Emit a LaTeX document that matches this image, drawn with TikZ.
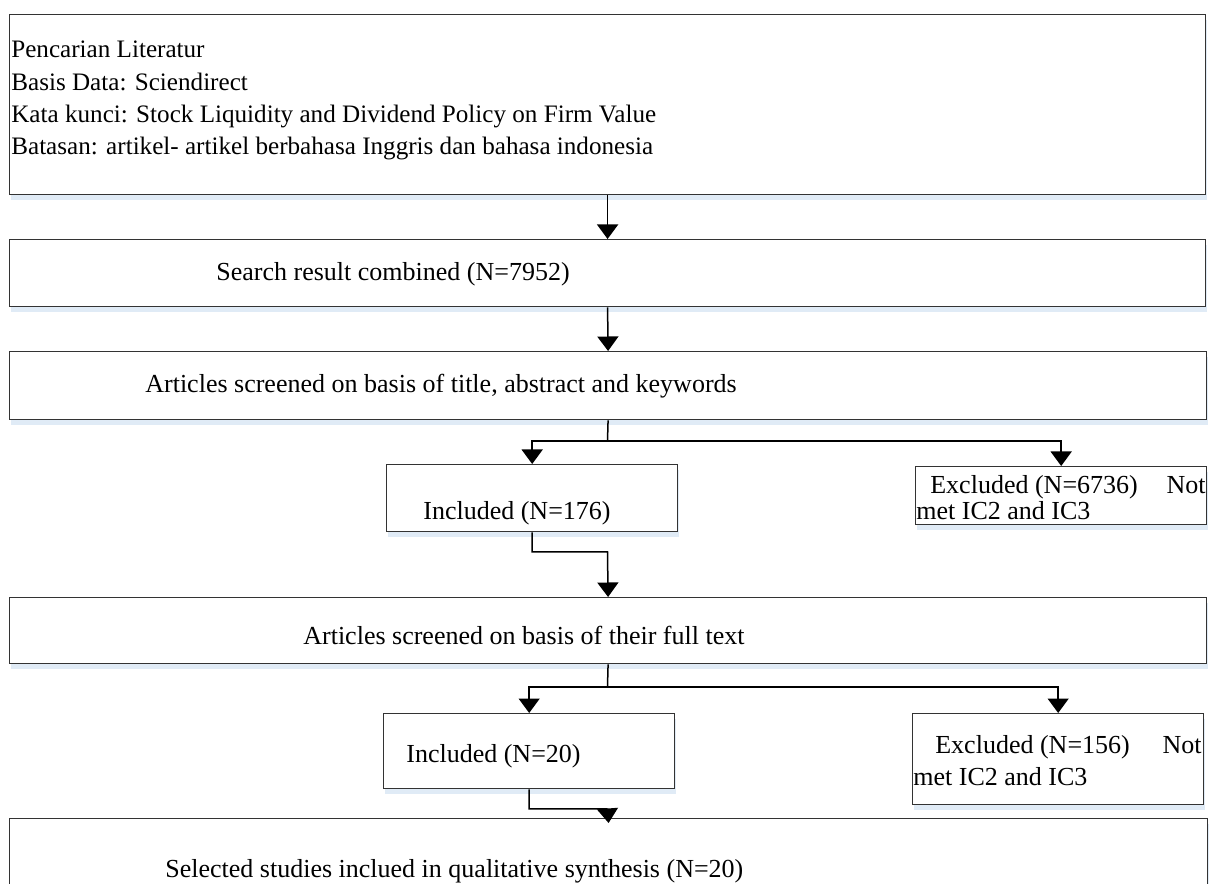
\documentclass[tikz,border=0pt]{standalone}
\usepackage{fontspec}
\setmainfont{Liberation Serif}
\usetikzlibrary{arrows.meta, shadows}
\definecolor{shadowblue}{RGB}{224,235,246}
\tikzset{
box/.style={draw=black!80, line width=0.028cm, fill=white, anchor=north west, inner sep=0pt,
  drop shadow={shadow xshift=0.03cm, shadow yshift=-0.1cm, fill=shadowblue, opacity=1}}, % the boxes
txt/.style={anchor=base west, inner sep=0pt, font=\fontsize{14.8}{18}\selectfont}, % the texts in the boxes
littxt/.style={txt, font=\fontsize{14.3}{18}\selectfont}, % the texts of the first box
link/.style={line width=0.03cm}, % lines without a head
flow/.style={link, -{Triangle[width=0.42cm,length=0.29cm]}}, % lines with a head
}

\begin{document}
\begin{tikzpicture}[x=0.02cm, y=-0.02cm]
\useasboundingbox (0,0) rectangle (1211,884);
\clip (0,0) rectangle (1211,884);

            % boxes
            \node[box, minimum width=23.92cm, minimum height=3.6cm] (lit) at (9,14) {};
            \node[box, minimum width=23.92cm, minimum height=1.34cm] (search) at (9,239) {};
            \node[box, minimum width=23.94cm, minimum height=1.36cm] (screen) at (9,351) {};
            \node[box, minimum width=5.82cm, minimum height=1.34cm] (inc1) at (386,464) {};
            \node[box, minimum width=5.82cm, minimum height=1.16cm] (exc1) at (915,466) {};
            \node[box, minimum width=23.94cm, minimum height=1.32cm] (full) at (9,597) {};
            \node[box, minimum width=5.82cm, minimum height=1.5cm] (inc2) at (383,713) {};
            \node[box, minimum width=5.82cm, minimum height=1.82cm] (exc2) at (912,713) {};
            \node[box, minimum width=23.96cm, minimum height=2cm] (final) at (9,818) {};

            % texts
            \node[littxt] (lit1) at (11,58) {Pencarian Literatur};
            \node[littxt] (lit2) at (11,91) {Basis Data: Sciendirect};
            \node[littxt] (lit3) at (11,123) {Kata kunci: Stock Liquidity and Dividend Policy on Firm Value};
            \node[littxt] (lit4) at (11,155) {Batasan: artikel- artikel berbahasa Inggris dan bahasa indonesia};
            \node[txt] (searcht) at (216,281) {Search result combined (N=7952)};
            \node[txt] (screent) at (145,393) {Articles screened on basis of title, abstract and keywords};
            \node[txt] (inc1t) at (423,520) {Included (N=176)};
            \node[txt] (exc1a) at (930,494) {Excluded (N=6736)};
            \node[txt, anchor=base east] (exc1b) at (1206,494) {Not};
            \node[txt] (exc1c) at (916,520) {met IC2 and IC3};
            \node[txt] (fullt) at (303,645) {Articles screened on basis of their full text};
            \node[txt] (inc2t) at (406,763) {Included (N=20)};
            \node[txt] (exc2a) at (935,754) {Excluded (N=156)};
            \node[txt, anchor=base east] (exc2b) at (1202,754) {Not};
            \node[txt] (exc2c) at (913,786) {met IC2 and IC3};
            \node[txt] (finalt) at (165,878) {Selected studies inclued in qualitative synthesis (N=20)};

            % connectors
            \coordinate (split1) at (607.5,441);
            \coordinate (bend1) at (607.5,552);
            \coordinate (split2) at (607.5,687);
            \coordinate (bend2) at (607.5,809);
            \draw[flow] (lit.south) -- (search.north);
            \draw[flow] (search.south) -- (screen.north);
            \draw[link] (screen.south) -- (split1);
            \draw[flow] (split1) -| (inc1.north);
            \draw[flow] (split1) -| (exc1.north);
            \draw[flow] (inc1.south) |- (bend1) -- (full.north);
            \draw[link] (full.south) -- (split2);
            \draw[flow] (split2) -| (inc2.north);
            \draw[flow] (split2) -| (exc2.north);
            \draw[flow] (inc2.south) |- (bend2) -- ([yshift=-0.1cm]final.north);
\end{tikzpicture}
\end{document}
